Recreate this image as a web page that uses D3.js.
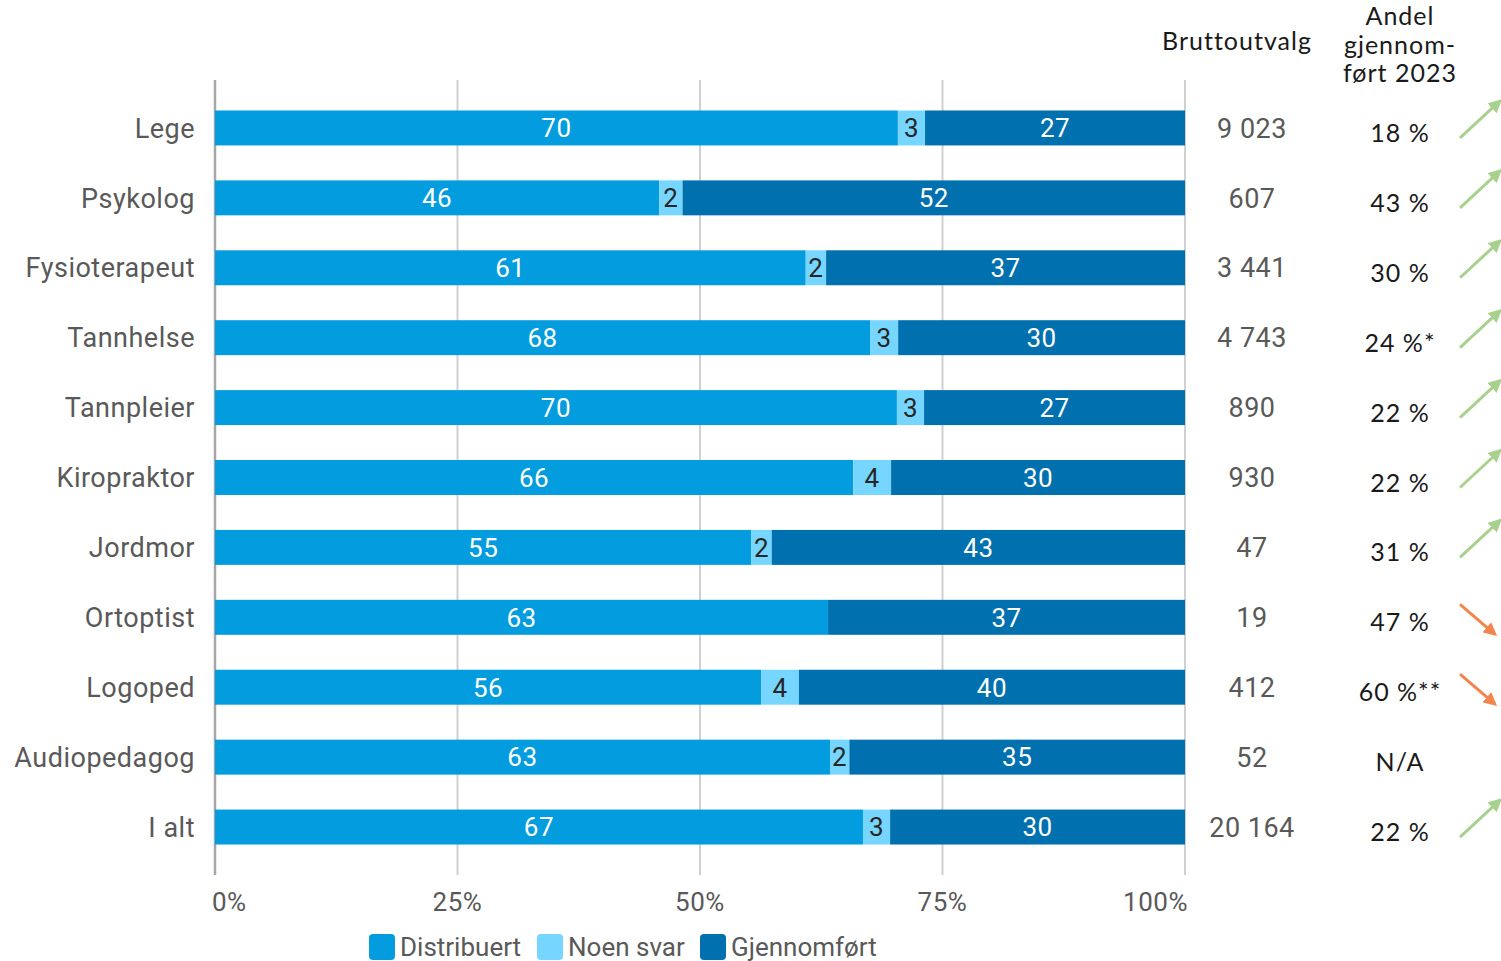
<!DOCTYPE html>
<html><head><meta charset="utf-8">
<script src="https://cdn.jsdelivr.net/npm/d3@7"></script>
<style>
body{margin:0;background:#fff;}
svg{display:block;}
.cat,.tick-lbl,.val,.brutto,.leg{font-family:Roboto,sans-serif;fill:#595959;}
.cat,.tick-lbl,.brutto{letter-spacing:0.5px;}
.geo{font-family:Lato,"Open Sans",sans-serif;fill:#1a1a1a;letter-spacing:1px;}
</style></head>
<body><div id="chart"></div>
<script>
// Categories and values (percent shares)
var categories=["Lege","Psykolog","Fysioterapeut","Tannhelse","Tannpleier","Kiropraktor","Jordmor","Ortoptist","Logoped","Audiopedagog","I alt"];
var distribuert=[70.4,45.8,60.9,67.6,70.3,65.8,55.3,63.2,56.3,63.4,66.8];
var noenSvar   =[2.8,2.4,2.1,2.9,2.8,3.9,2.1,0,3.9,2.0,2.8];
var gjennomfort=[26.8,51.8,37.0,29.6,26.9,30.3,42.6,36.8,39.8,34.6,30.4];
var bruttoutvalg=["9 023","607","3 441","4 743","890","930","47","19","412","52","20 164"];
var andel=["18 %","43 %","30 %","24 %*","22 %","22 %","31 %","47 %","60 %**","N/A","22 %"];
var trend=["up","up","up","up","up","up","up","down","down","","up"];
var ticks=[0,25,50,75,100];
var seriesNames=["Distribuert","Noen svar","Gjennomført"];
var colors=["#039ddf","#76d6ff","#0070af"];

var W=1501,H=961;
var svg=d3.select("#chart").append("svg").attr("width",W).attr("height",H);

var x=d3.scaleLinear().domain([0,100]).range([215,1185]);
var y=d3.scaleBand().domain(categories).range([93,862]).paddingInner(0.5).paddingOuter(0.25);

// grid
var grid=svg.append("g");
grid.selectAll("line").data(ticks).enter().append("line")
  .attr("x1",function(d){return x(d);}).attr("x2",function(d){return x(d);})
  .attr("y1",80).attr("y2",875)
  .attr("stroke",function(d){return d===0?"#a6a6a6":"#d0d0d0";})
  .attr("stroke-width",function(d){return d===0?2.5:2;});

// tick labels
svg.append("g").selectAll("text").data(ticks).enter().append("text").attr("class","tick-lbl")
  .attr("x",function(d){return x(d);}).attr("y",911)
  .attr("text-anchor",function(d){return d===0?"start":d===100?"end":"middle";})
  .attr("dx",function(d){return d===0?-3:d===100?3:0;})
  .style("font-size","26px").text(function(d){return d+"%";});

// stacked data
var rows=categories.map(function(c,i){return {cat:c,vals:[distribuert[i],noenSvar[i],gjennomfort[i]]};});
var segs=[];
rows.forEach(function(r){
  var tot=d3.sum(r.vals),acc=0;
  r.vals.forEach(function(v,k){
    var s={cat:r.cat,k:k,v:v,x0:acc/tot*100,x1:(acc+v)/tot*100};acc+=v;segs.push(s);
  });
});
var bh=y.bandwidth();
svg.append("g").selectAll("rect").data(segs).enter().append("rect")
  .attr("x",function(d){return x(d.x0);}).attr("width",function(d){return x(d.x1)-x(d.x0);})
  .attr("y",function(d){return y(d.cat);}).attr("height",bh)
  .attr("fill",function(d){return colors[d.k];});
svg.append("g").selectAll("text").data(segs.filter(function(d){return d.v>0;})).enter().append("text")
  .attr("x",function(d){return (x(d.x0)+x(d.x1))/2;})
  .attr("y",function(d){return y(d.cat)+bh/2;}).attr("dy","0.36em")
  .attr("text-anchor","middle")
  .style("font-family","Roboto,sans-serif").style("font-size","26px").style("letter-spacing","0.5px")
  .style("fill",function(d){return d.k===1?"#262626":"#fff";})
  .text(function(d){return d3.format(".0f")(d.v);});

// category labels
svg.append("g").selectAll("text").data(categories).enter().append("text").attr("class","cat")
  .attr("x",195).attr("y",function(d){return y(d)+bh/2;}).attr("dy","0.36em")
  .attr("text-anchor","end").style("font-size","27px").text(function(d){return d;});

// right columns
svg.append("text").attr("class","geo").attr("x",1237).attr("y",50).attr("text-anchor","middle")
  .style("font-size","25px").text("Bruttoutvalg");
["Andel","gjennom-","ført 2023"].forEach(function(t,i){
  svg.append("text").attr("class","geo").attr("x",1400).attr("y",25+i*28.5).attr("text-anchor","middle")
    .style("font-size","25px").text(t);
});
svg.append("g").selectAll("text").data(categories).enter().append("text").attr("class","brutto")
  .attr("x",1252).attr("y",function(d){return y(d)+bh/2;}).attr("dy","0.36em")
  .attr("text-anchor","middle").style("font-size","27px")
  .text(function(d,i){return bruttoutvalg[i];});
svg.append("g").selectAll("text").data(categories).enter().append("text").attr("class","geo")
  .attr("x",1400).attr("y",function(d){return y(d)+bh/2+5;}).attr("dy","0.36em")
  .attr("text-anchor","middle").style("font-size","25px")
  .text(function(d,i){return andel[i];});

// trend arrows
var defs=svg.append("defs");
[["up","#a9d18e"],["down","#f4844e"]].forEach(function(p){
  defs.append("marker").attr("id","ah-"+p[0]).attr("viewBox","0 0 10 10").attr("refX",8).attr("refY",5)
    .attr("markerWidth",4.5).attr("markerHeight",4.5).attr("orient","auto-start-reverse")
    .append("path").attr("d","M0,0L10,5L0,10z").attr("fill",p[1]);
});
svg.append("g").selectAll("line").data(categories.filter(function(d,i){return trend[i];})).enter().append("line")
  .each(function(d){
    var i=categories.indexOf(d),cy=y(d)+bh/2,up=trend[i]==="up";
    d3.select(this).attr("x1",1460).attr("x2",up?1500:1495)
      .attr("y1",up?cy+10:cy-13).attr("y2",up?cy-27:cy+17)
      .attr("stroke",up?"#a9d18e":"#f4844e").attr("stroke-width",3)
      .attr("marker-end","url(#ah-"+trend[i]+")");
  });

// legend
var leg=svg.append("g");
var lx=[369,537,700];
seriesNames.forEach(function(n,i){
  leg.append("rect").attr("x",lx[i]).attr("y",934).attr("width",26).attr("height",26).attr("rx",4).attr("fill",colors[i]);
  leg.append("text").attr("class","leg").attr("x",lx[i]+31).attr("y",947).attr("dy","0.36em")
    .style("font-size","26px").text(n);
});
</script></body></html>
